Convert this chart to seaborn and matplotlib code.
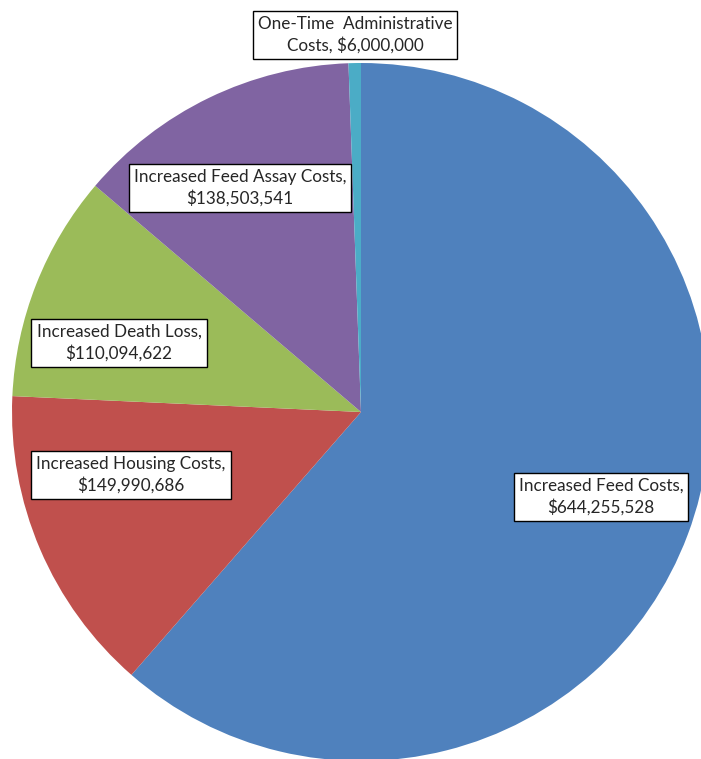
import matplotlib
matplotlib.use("Agg")
import matplotlib.pyplot as plt
import seaborn as sns

categories = ["Increased Feed Costs", "Increased Housing Costs", "Increased Death Loss",
              "Increased Feed Assay Costs", "One-Time  Administrative\nCosts"]
values = [644255528, 149990686, 110094622, 138503541, 6000000]
colors = ["#4F81BD", "#C0504D", "#9BBB59", "#8064A2", "#4BACC6"]

# label box centres, in pixels from the top-left
label_pos = [(601, 497), (131, 475), (119, 343), (240, 188), (355, 35)]

sns.set_style("white")
plt.rcParams["font.family"] = ["Lato", "DejaVu Sans"]

W, H = 701, 759
fig = plt.figure(figsize=(W / 100, H / 100), dpi=100)
ax = fig.add_axes([0, 0, 1, 1])

ax.pie(values, colors=colors, startangle=90, counterclock=False,
       center=(361, H - 412), radius=349, frame=True,
       wedgeprops=dict(linewidth=0))
ax.set_xlim(0, W)
ax.set_ylim(0, H)
ax.set_aspect("equal")
ax.axis("off")

for name, val, (px, py) in zip(categories, values, label_pos):
    if "\n" in name:
        txt = name + ", ${:,}".format(val)
    else:
        txt = name + ",\n${:,}".format(val)
    ax.text(px, H - py, txt, ha="center", va="center", fontsize=12.3,
            linespacing=1.38,
            bbox=dict(boxstyle="square,pad=0.3", facecolor="white",
                      edgecolor="black", linewidth=1))

fig.savefig("out.png", dpi=100)
